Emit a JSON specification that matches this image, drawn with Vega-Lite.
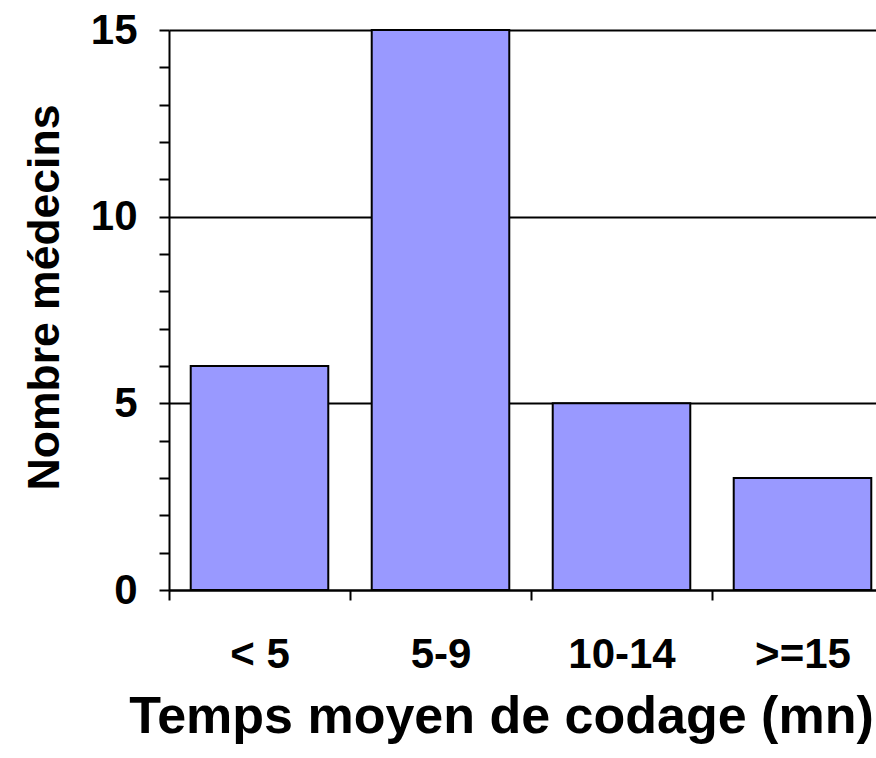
{
  "$schema": "https://vega.github.io/schema/vega-lite/v6.json",
  "width": 724,
  "height": 560,
  "autosize": {"type": "none"},
  "padding": {"left": 169, "top": 30, "right": 0, "bottom": 168},
  "background": "white",
  "config": {
    "view": {"stroke": null},
    "font": "Liberation Sans"
  },
  "data": {
    "values": [
      {"temps": "< 5", "medecins": 6},
      {"temps": "5-9", "medecins": 15},
      {"temps": "10-14", "medecins": 5},
      {"temps": ">=15", "medecins": 3}
    ]
  },
  "mark": {"type": "bar", "fill": "#9999FF", "stroke": "black", "strokeWidth": 2, "width": {"band": 0.76}},
  "encoding": {
    "x": {
      "field": "temps",
      "type": "nominal",
      "sort": null,
      "scale": {"paddingInner": 0, "paddingOuter": 0},
      "axis": {
        "title": "Temps moyen de codage (mn)",
        "labelAngle": 0,
        "tickBand": "extent",
        "tickSize": 10,
        "tickWidth": 2,
        "tickColor": "black",
        "domainColor": "black",
        "domainWidth": 2,
        "labelPadding": 34,
        "labelFont": "Liberation Sans",
        "labelFontSize": 42,
        "labelFontWeight": "bold",
        "labelColor": "black",
        "titleFont": "Liberation Sans",
        "titleFontSize": 52,
        "titleFontWeight": "bold",
        "titleColor": "black",
        "titleAlign": "center",
        "titleBaseline": "alphabetic",
        "titleX": 332,
        "titleY": 142,
        "zindex": 1
      }
    },
    "y": {
      "field": "medecins",
      "type": "quantitative",
      "scale": {"domain": [0, 15], "nice": false},
      "axis": {
        "title": "Nombre médecins",
        "values": [0, 1, 2, 3, 4, 5, 6, 7, 8, 9, 10, 11, 12, 13, 14, 15],
        "labelExpr": "datum.value % 5 === 0 ? datum.label : ''",
        "tickSize": 10,
        "tickWidth": 2,
        "tickColor": "black",
        "domainColor": "black",
        "domainWidth": 2,
        "grid": true,
        "gridColor": "black",
        "gridWidth": 2,
        "gridOpacity": {"condition": {"test": "datum.value % 5 === 0", "value": 1}, "value": 0},
        "labelPadding": 22,
        "labelFont": "Liberation Sans",
        "labelFontSize": 42,
        "labelFontWeight": "bold",
        "labelColor": "black",
        "titleFont": "Liberation Sans",
        "titleFontSize": 44.5,
        "titleFontWeight": "bold",
        "titleColor": "black",
        "titleAngle": 270,
        "titleAlign": "center",
        "titleBaseline": "alphabetic",
        "titleX": -111,
        "titleY": 267
      }
    }
  }
}
